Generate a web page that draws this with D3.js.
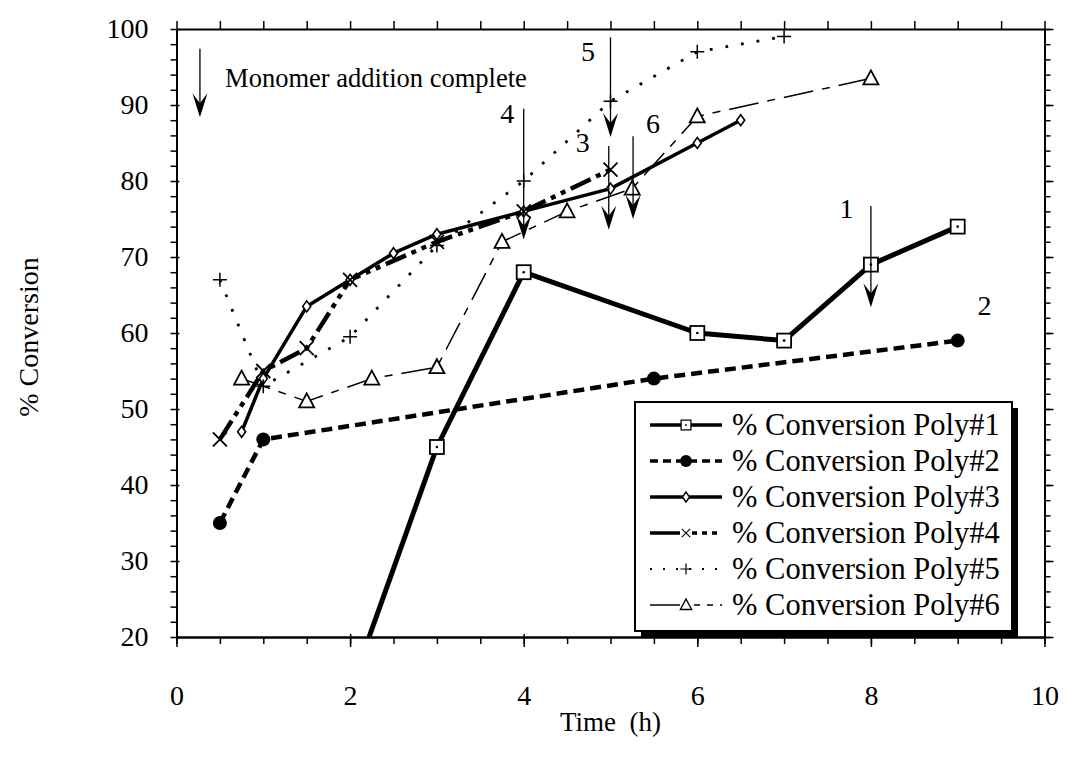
<!DOCTYPE html>
<html><head><meta charset="utf-8">
<script src="https://cdn.jsdelivr.net/npm/d3@7"></script>
<style>
html,body{margin:0;padding:0;background:#fff;}
svg{display:block;font-family:"Liberation Serif","Times New Roman",serif;}
</style></head>
<body>
<svg id="chart" width="1067" height="758"></svg>
<script>
// ---------- data ----------
const seriesNames = ["% Conversion Poly#1","% Conversion Poly#2","% Conversion Poly#3",
                     "% Conversion Poly#4","% Conversion Poly#5","% Conversion Poly#6"];
const poly1 = [[2,13],[3,45],[4,68],[6,60],[7,59],[8,69],[9,74]];
const poly2 = [[0.5,35],[1,46],[5.5,54],[9,59]];
const poly3 = [[0.75,47],[1,54],[1.5,63.5],[2,67],[2.5,70.5],[3,73],[4,76],[5,79],[6,85],[6.5,88]];
const poly4 = [[0.5,46],[1,55],[1.5,58],[2,67],[3,72],[4,76],[5,81.5]];
const poly5 = [[0.5,67],[1,53],[2,59.5],[3,71.5],[4,80],[5,90.5],[6,97],[7,99]];
const poly6 = [[0.75,54],[1.5,51],[2.25,54],[3,55.5],[3.75,72],[4.5,76],[5.25,79],[6,88.5],[8,93.5]];
const xTicks = [0,2,4,6,8,10];
const yTicks = [20,30,40,50,60,70,80,90,100];
// annotation arrows: x, top y, tip y, label, label x, label y
const arrows = [
  {x:0.27, y0:97.4, y1:88.4, label:"", lx:0, ly:0},
  {x:4,    y0:89.5, y1:72.3, label:"4", lx:3.81, ly:88.9},
  {x:5,    y0:98.9, y1:85.8, label:"5", lx:4.74, ly:97.0},
  {x:4.98, y0:84.6, y1:73.6, label:"3", lx:4.68, ly:85.1},
  {x:5.26, y0:85.9, y1:75.0, label:"6", lx:5.49, ly:87.6},
  {x:8,    y0:76.7, y1:63.4, label:"1", lx:7.72, ly:76.4},
  {x:9.31, y0:null, y1:null, label:"2", lx:9.31, ly:63.6}
];
const monomerText = {text:"Monomer addition complete", x:0.56, y:92.4};

// ---------- setup ----------
const svg = d3.select("#chart");
const x = d3.scaleLinear().domain([0,10]).range([176.5,1044.5]);
const y = d3.scaleLinear().domain([20,100]).range([637,29]);
const serif = '"Liberation Serif","Times New Roman",serif';

svg.append("defs").append("clipPath").attr("id","plotclip")
  .append("rect").attr("x",x(0)).attr("y",y(100)).attr("width",x(10)-x(0)).attr("height",y(20)-y(100));

// ---------- axes ----------
const minorX = d3.range(0,10.01,0.5);
const minorY = d3.range(20,100.01,2);
function styleAxis(g){ g.attr("font-family",serif);
  g.select(".domain").attr("stroke","#000").attr("stroke-width",1.8);
  g.selectAll(".tick line").attr("stroke","#000").attr("stroke-width",1.5); }

// bottom
svg.append("g").attr("transform",`translate(0,${y(20)})`)
  .call(d3.axisBottom(x).tickValues(minorX).tickSize(7).tickSizeOuter(0).tickFormat(""))
  .call(styleAxis);
const xb = svg.append("g").attr("transform",`translate(0,${y(20)})`)
  .call(d3.axisBottom(x).tickValues(xTicks).tickSize(10).tickPadding(38).tickSizeOuter(0))
  .call(styleAxis);
xb.selectAll(".tick text").attr("font-family",serif).attr("font-size",28).attr("fill","#000");
xb.selectAll(".tick line").attr("y1",-3);
// top
svg.append("g").attr("transform",`translate(0,${y(100)})`)
  .call(d3.axisTop(x).tickValues(minorX).tickSize(8).tickSizeOuter(0).tickFormat(""))
  .call(styleAxis);
// left
svg.append("g").attr("transform",`translate(${x(0)},0)`)
  .call(d3.axisLeft(y).tickValues(minorY).tickSize(6).tickSizeOuter(0).tickFormat(""))
  .call(styleAxis);
const yl = svg.append("g").attr("transform",`translate(${x(0)},0)`)
  .call(d3.axisLeft(y).tickValues(yTicks).tickSize(10).tickPadding(18).tickSizeOuter(0))
  .call(styleAxis);
yl.selectAll(".tick text").attr("font-family",serif).attr("font-size",28).attr("fill","#000");
yl.selectAll(".tick line").attr("x2",3);
// right
svg.append("g").attr("transform",`translate(${x(10)},0)`)
  .call(d3.axisRight(y).tickValues(minorY).tickSize(6).tickSizeOuter(0).tickFormat(""))
  .call(styleAxis);
svg.append("g").attr("transform",`translate(${x(10)},0)`)
  .call(d3.axisRight(y).tickValues(yTicks).tickSize(9).tickSizeOuter(0).tickFormat(""))
  .call(styleAxis);

// axis titles
svg.append("text").attr("x",(x(0)+x(10))/2).attr("y",731).attr("text-anchor","middle")
  .attr("font-family",serif).attr("font-size",27).attr("xml:space","preserve").text("Time  (h)");
svg.append("text").attr("transform",`translate(38,337) rotate(-90)`).attr("text-anchor","middle")
  .attr("font-family",serif).attr("font-size",28).text("% Conversion");

// ---------- series ----------
const styles = [
  {data:poly1, width:5,   dash:null,               marker:"square"},
  {data:poly2, width:4.5, dash:"11,6",             marker:"circle"},
  {data:poly3, width:3.5, dash:null,               marker:"diamond"},
  {data:poly4, width:4.5, dash:"22,6,5,6,5,6",     marker:"x"},
  {data:poly5, width:2.8, dash:"2.8,13",           marker:"plus"},
  {data:poly6, width:1.5, dash:"30,9,8,9",         marker:"triangle"}
];
const line = d3.line().x(d=>x(d[0])).y(d=>y(d[1]));
const plot = svg.append("g").attr("clip-path","url(#plotclip)");

function drawMarker(g, type, cx, cy){
  if(type==="square"){
    g.append("rect").attr("x",cx-7).attr("y",cy-7).attr("width",14).attr("height",14)
      .attr("fill","#fff").attr("stroke","#000").attr("stroke-width",1.8);
    g.append("circle").attr("cx",cx).attr("cy",cy).attr("r",1.3).attr("fill","#000");
  } else if(type==="circle"){
    g.append("circle").attr("cx",cx).attr("cy",cy).attr("r",7).attr("fill","#000");
  } else if(type==="diamond"){
    g.append("path").attr("d",`M${cx},${cy-5.5}L${cx+4},${cy}L${cx},${cy+5.5}L${cx-4},${cy}Z`)
      .attr("fill","#fff").attr("stroke","#000").attr("stroke-width",1.6);
  } else if(type==="x"){
    g.append("path").attr("d",`M${cx-7},${cy-7}L${cx+7},${cy+7}M${cx-7},${cy+7}L${cx+7},${cy-7}`)
      .attr("stroke","#000").attr("stroke-width",1.8);
  } else if(type==="plus"){
    g.append("path").attr("d",`M${cx-7},${cy}L${cx+7},${cy}M${cx},${cy-7}L${cx},${cy+7}`)
      .attr("stroke","#000").attr("stroke-width",1.5);
  } else if(type==="triangle"){
    g.append("path").attr("d",`M${cx},${cy-8}L${cx+7.5},${cy+6}L${cx-7.5},${cy+6}Z`)
      .attr("fill","#fff").attr("stroke","#000").attr("stroke-width",1.8);
  }
}

styles.forEach(s=>{
  const p = plot.append("path").datum(s.data).attr("d",line).attr("fill","none")
    .attr("stroke","#000").attr("stroke-width",s.width).attr("stroke-linejoin","round");
  if(s.dash) p.attr("stroke-dasharray",s.dash);
});
styles.forEach(s=>{
  const g = plot.append("g");
  s.data.forEach(d=>drawMarker(g, s.marker, x(d[0]), y(d[1])));
});

// ---------- annotations ----------
function arrowHead(g, cx, tipY){
  g.append("path").attr("d",
    `M${cx},${tipY}L${cx-7.5},${tipY-24}L${cx},${tipY-14}L${cx+7.5},${tipY-24}Z`).attr("fill","#000");
}
const ann = svg.append("g");
arrows.forEach(a=>{
  if(a.y0!==null){
    ann.append("line").attr("x1",x(a.x)).attr("x2",x(a.x)).attr("y1",y(a.y0)).attr("y2",y(a.y1)-6)
      .attr("stroke","#000").attr("stroke-width",1.3);
    arrowHead(ann, x(a.x), y(a.y1));
  }
  if(a.label){
    ann.append("text").attr("x",x(a.lx)).attr("y",y(a.ly)).attr("text-anchor","middle")
      .attr("dominant-baseline","central").attr("font-family",serif).attr("font-size",28).text(a.label);
  }
});
ann.append("text").attr("x",x(monomerText.x)).attr("y",y(monomerText.y))
  .attr("font-family",serif).attr("font-size",26.5).text(monomerText.text);

// ---------- legend ----------
const lg = svg.append("g");
const lx0 = 635, ly0 = 402, lw = 377, lh = 229;
lg.append("rect").attr("x",lx0+6).attr("y",ly0+6).attr("width",lw).attr("height",lh).attr("fill","#000");
lg.append("rect").attr("x",lx0).attr("y",ly0).attr("width",lw).attr("height",lh)
  .attr("fill","#fff").attr("stroke","#000").attr("stroke-width",2);
const legendDash = [null,"8,5",null,null,"2,11","3,0"];
styles.forEach((s,i)=>{
  const cy = 425 + i*36;
  const g = lg.append("g");
  if(i===3){
    g.append("line").attr("x1",650).attr("x2",680).attr("y1",cy).attr("y2",cy).attr("stroke","#000").attr("stroke-width",3.5);
    g.append("line").attr("x1",692).attr("x2",722).attr("y1",cy).attr("y2",cy).attr("stroke","#000").attr("stroke-width",3.5).attr("stroke-dasharray","5,5");
  } else if(i===5){
    g.append("line").attr("x1",650).attr("x2",680).attr("y1",cy).attr("y2",cy).attr("stroke","#000").attr("stroke-width",1.5);
    g.append("line").attr("x1",694).attr("x2",722).attr("y1",cy).attr("y2",cy).attr("stroke","#000").attr("stroke-width",1.5).attr("stroke-dasharray","6,7");
  } else {
    const l = g.append("line").attr("x1",650).attr("x2",722).attr("y1",cy).attr("y2",cy)
      .attr("stroke","#000").attr("stroke-width", i===4 ? 2 : 3.5);
    if(legendDash[i]) l.attr("stroke-dasharray",legendDash[i]);
  }
  const m = g.append("g");
  const scaleM = {square:0.7, circle:0.85, diamond:0.9, x:0.6, plus:0.8, triangle:0.75}[s.marker];
  m.attr("transform",`translate(686,${cy}) scale(${scaleM})`);
  drawMarker(m, s.marker, 0, 0);
  g.append("text").attr("x",732).attr("y",cy).attr("dominant-baseline","central")
    .attr("font-family",serif).attr("font-size",30.5).text(seriesNames[i]);
});
</script>
</body></html>
